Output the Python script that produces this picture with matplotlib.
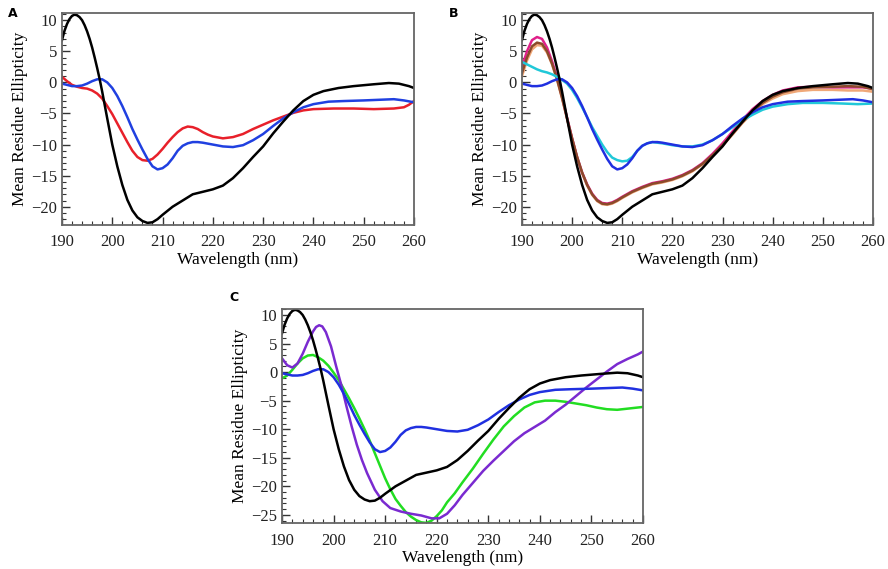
import numpy as np
import matplotlib.pyplot as plt
from matplotlib.ticker import MultipleLocator

plt.rcParams['font.family'] = ['Liberation Serif', 'DejaVu Serif']

# Black trace (shared by all panels)
black_x = [190, 190.5, 191, 191.5, 192, 192.5, 193, 193.5, 194, 194.5, 195, 195.5, 196, 196.5,
           197, 197.5, 198, 199, 200, 201, 202, 203, 204, 205, 206, 207, 208, 209,
           210, 212, 214, 216, 218, 220, 222, 224, 226, 228, 230, 232, 234, 236, 238, 240,
           242, 245, 248, 252, 255, 257, 259, 260]
black_y = [6.8, 8.3, 9.4, 10.2, 10.7, 10.9, 10.8, 10.5, 10.0, 9.2, 8.2, 7.0, 5.6, 4.0,
           2.3, 0.5, -1.5, -5.8, -10.0, -13.5, -16.5, -18.9, -20.6, -21.7, -22.3, -22.6, -22.5,
           -22.0, -21.3, -20.0, -19.0, -18.0, -17.6, -17.2, -16.6, -15.4, -13.8, -12.0, -10.3,
           -8.2, -6.3, -4.5, -3.0, -2.0, -1.4, -0.9, -0.6, -0.3, -0.1, -0.2, -0.6, -0.9]

# Blue trace (shared by all panels)
blue_x = [190, 191, 192, 193, 194, 195, 196, 197, 198, 199, 200, 201, 202, 203, 204, 205, 206,
          207, 208, 209, 210, 211, 212, 213, 214, 215, 216, 217, 218, 220, 222, 224, 226, 228,
          230, 232, 234, 236, 238, 240, 243, 246, 250, 253, 256, 258, 260]
blue_y = [-0.2, -0.4, -0.6, -0.6, -0.5, -0.2, 0.2, 0.5, 0.5, 0.0, -0.9, -2.2, -3.8, -5.6, -7.5,
          -9.2, -10.8, -12.3, -13.5, -14.0, -13.8, -13.2, -12.2, -11.0, -10.2, -9.8, -9.6, -9.6,
          -9.7, -10.0, -10.3, -10.4, -10.1, -9.3, -8.3, -7.0, -5.8, -4.8, -4.0, -3.5, -3.1,
          -3.0, -2.9, -2.8, -2.7, -2.9, -3.2]

# Panel A red trace
red_x = [190, 191, 192, 193, 194, 195, 196, 197, 198, 199, 200, 201, 202, 203, 204, 205, 206,
         207, 208, 209, 210, 211, 212, 213, 214, 215, 216, 217, 218, 219, 220, 222, 224, 226,
         228, 230, 232, 234, 236, 238, 240, 244, 248, 252, 256, 258, 259, 260]
red_y = [0.9, 0.2, -0.4, -0.7, -0.9, -1.0, -1.3, -1.8, -2.6, -3.8, -5.1, -6.6, -8.1, -9.6,
         -11.0, -12.0, -12.5, -12.6, -12.3, -11.6, -10.7, -9.7, -8.8, -8.0, -7.4, -7.1, -7.2,
         -7.5, -8.0, -8.4, -8.7, -9.0, -8.8, -8.3, -7.5, -6.8, -6.1, -5.5, -4.9, -4.5, -4.3,
         -4.2, -4.2, -4.3, -4.2, -4.0, -3.6, -3.0]

# Panel B extra traces
cyan_x = [190, 191, 192, 193, 194, 195, 196, 197, 198, 199, 200, 201, 202, 203, 204, 205, 206,
          207, 208, 209, 210, 211, 212, 213, 214, 215, 216, 218, 220, 222, 224, 226, 228, 230,
          232, 234, 236, 238, 240, 243, 246, 250, 254, 257, 260]
cyan_y = [3.3, 2.9, 2.5, 2.1, 1.8, 1.6, 1.3, 0.9, 0.4, -0.2, -1.2, -2.5, -4.0, -5.6, -7.2, -8.6,
          -10.0, -11.2, -12.1, -12.5, -12.7, -12.6, -12.0, -11.0, -10.2, -9.8, -9.6, -9.8, -10.1,
          -10.3, -10.3, -10.0, -9.3, -8.3, -7.2, -6.1, -5.2, -4.4, -3.9, -3.5, -3.3, -3.3, -3.4,
          -3.5, -3.4]

brown_x = [190, 191, 192, 193, 194, 195, 196, 197, 198, 199, 200, 201, 202, 203, 204, 205, 206,
           207, 208, 209, 210, 212, 214, 216, 218, 220, 222, 224, 226, 228, 230, 232, 234, 236,
           238, 240, 242, 245, 248, 252, 255, 258, 260]
brown_y = [1.5, 4.0, 5.8, 6.4, 6.2, 5.0, 3.0, 0.5, -2.5, -5.8, -9.0, -12.0, -14.5, -16.5, -18.0,
           -19.0, -19.5, -19.6, -19.4, -19.0, -18.5, -17.6, -16.9, -16.3, -16.0, -15.6, -15.0,
           -14.2, -13.1, -11.7, -10.1, -8.3, -6.4, -4.7, -3.3, -2.3, -1.6, -1.0, -0.8, -0.7,
           -0.6, -0.7, -1.1]

tan_y = [1.0, 3.5, 5.3, 6.0, 5.9, 4.8, 2.9, 0.4, -2.6, -5.9, -9.1, -12.1, -14.6, -16.6, -18.1,
         -19.1, -19.6, -19.7, -19.5, -19.1, -18.6, -17.7, -17.0, -16.4, -16.1, -15.7, -15.1,
         -14.3, -13.2, -11.8, -10.2, -8.4, -6.5, -4.9, -3.5, -2.6, -1.9, -1.4, -1.2, -1.2,
         -1.3, -1.3, -1.5]

magenta_y = [2.5, 5.0, 6.8, 7.3, 7.0, 5.6, 3.4, 0.8, -2.3, -5.7, -9.0, -12.0, -14.5, -16.4,
             -17.9, -18.9, -19.4, -19.5, -19.3, -18.9, -18.4, -17.5, -16.8, -16.2, -15.9, -15.5,
             -14.9, -14.1, -13.0, -11.5, -9.8, -7.9, -6.0, -4.3, -3.0, -2.0, -1.3, -0.8, -0.7,
             -0.8, -0.8, -0.8, -1.0]

# Panel C extra traces
purple_x = [190, 191, 192, 193, 194, 195, 196, 196.6, 197.2, 197.8, 198.5, 199.5, 200.5, 201.5,
            202.5, 203.5, 204.5, 205.5, 206.5, 208, 209.5, 211, 213, 215, 217, 219, 220.5, 222,
            223.5, 225, 227, 229, 231, 233, 235, 237, 239, 241, 243, 245, 247, 249, 251, 253,
            255, 257, 259, 260]
purple_y = [2.4, 1.2, 0.8, 1.5, 3.2, 5.3, 7.1, 7.9, 8.2, 8.0, 7.0, 4.5, 1.0, -2.3, -6.0, -9.5,
            -12.7, -15.4, -17.7, -20.6, -22.6, -23.8, -24.4, -24.8, -25.1, -25.6, -25.6, -24.8,
            -23.3, -21.5, -19.4, -17.3, -15.5, -13.8, -12.1, -10.7, -9.6, -8.5, -7.0, -5.7,
            -4.2, -2.7, -1.3, 0.1, 1.4, 2.3, 3.1, 3.6]

green_x = [190, 191, 192, 193, 194, 195, 196, 197, 198, 199, 200, 201, 202, 203, 204, 205, 206,
           207, 208, 209, 210, 211, 212, 213, 214, 215, 216, 217, 218, 219, 220, 221, 222, 223.5,
           225, 227, 229, 231, 233, 235, 237, 239, 241, 243, 245, 247, 249, 251, 253, 255, 257,
           259, 260]
green_y = [-1.1, -0.6, 0.4, 1.5, 2.4, 2.9, 3.0, 2.6, 2.0, 1.1, -0.1, -1.4, -3.0, -4.6, -6.3,
           -8.1, -10.0, -12.0, -14.2, -16.4, -18.6, -20.5, -22.2, -23.4, -24.5, -25.3, -25.9,
           -26.3, -26.4, -26.0, -25.2, -24.2, -22.8, -21.2, -19.3, -16.9, -14.3, -11.8, -9.5,
           -7.7, -6.2, -5.3, -5.0, -5.0, -5.2, -5.5, -5.8, -6.2, -6.5, -6.6, -6.4, -6.2, -6.1]

fig = plt.figure(figsize=(8.88, 5.69), dpi=100)
axA = fig.add_axes([0.0698, 0.605, 0.3964, 0.372])
axB = fig.add_axes([0.5878, 0.605, 0.3952, 0.372])
axC = fig.add_axes([0.3176, 0.081, 0.4065, 0.376])


def style(ax, ylim, letter, lx, ly):
    ax.set_xlim(190, 260)
    ax.set_ylim(*ylim)
    ax.xaxis.set_major_locator(MultipleLocator(10))
    ax.xaxis.set_minor_locator(MultipleLocator(2))
    ax.yaxis.set_major_locator(MultipleLocator(5))
    ax.yaxis.set_minor_locator(MultipleLocator(1))
    ax.tick_params(which='both', direction='in', top=False, right=False,
                   labelsize=12, colors='#333333', labelcolor='#222222')
    ax.tick_params(which='major', length=6, width=1)
    ax.tick_params(which='minor', length=3, width=0.8)
    ax.tick_params(axis='x', pad=7)
    for s in ax.spines.values():
        s.set_color('#666666')
        s.set_linewidth(1.3)
    ax.set_xlabel('Wavelength (nm)', fontsize=12.5, labelpad=1)
    ax.set_ylabel('Mean Residue Ellipticity', fontsize=12.5, labelpad=2)
    fig.text(lx, ly, letter, fontsize=9, fontweight='bold', family='DejaVu Sans',
             ha='center', va='center')


lw = 1.8

# Panel A
axA.plot(red_x, red_y, color='#e8202a', lw=lw)
axA.plot(blue_x, blue_y, color='#2040e0', lw=lw)
axA.plot(black_x, black_y, color='black', lw=lw)
style(axA, (-22.9, 11.15), 'A', 0.014, 0.977)

# Panel B
axB.plot(brown_x, tan_y, color='#f0a878', lw=lw)
axB.plot(brown_x, magenta_y, color='#e0208a', lw=lw)
axB.plot(brown_x, brown_y, color='#8b4a2b', lw=lw)
axB.plot(cyan_x, cyan_y, color='#20c8d8', lw=lw)
axB.plot(blue_x, blue_y, color='#2030e0', lw=lw)
axB.plot(black_x, black_y, color='black', lw=lw)
style(axB, (-22.9, 11.15), 'B', 0.511, 0.977)

# Panel C
axC.plot(green_x, green_y, color='#22dd22', lw=lw)
axC.plot(purple_x, purple_y, color='#7a2ad0', lw=lw)
axC.plot(blue_x, blue_y, color='#2030e0', lw=lw)
axC.plot(black_x, black_y, color='black', lw=lw)
style(axC, (-26.4, 11.05), 'C', 0.264, 0.477)

fig.savefig('out.png', dpi=100)
